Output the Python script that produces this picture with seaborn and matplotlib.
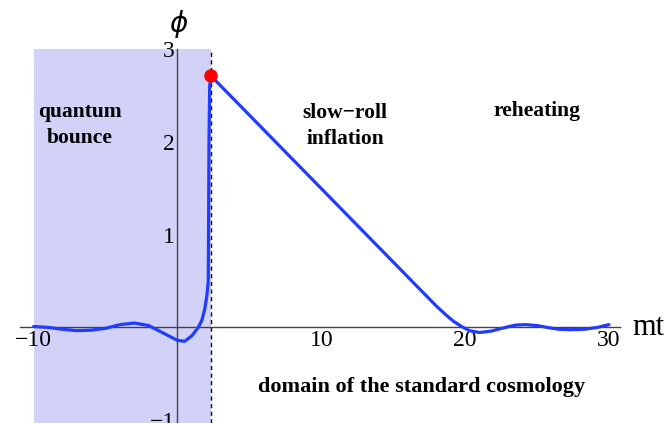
import numpy as np
import pandas as pd
import matplotlib
matplotlib.use("Agg")
import matplotlib.pyplot as plt
import seaborn as sns

# curve: mt -> phi
mt = [-10, -9, -8, -7, -6, -5, -4, -3, -2, -1, -0.5, 0, 0.5, 1, 1.25, 1.45,
      1.7, 1.9, 2.05, 2.14, 2.16, 2.19, 2.24, 2.33,
      18.0, 18.7, 19.2, 19.75, 20.3, 21, 21.8, 22.8,
      23.5, 24.2, 25, 25.7, 26.5, 27.3, 28.3, 29.2, 30]
phi = [0.01, 0.0, -0.02, -0.035, -0.03, -0.01, 0.03, 0.047, 0.02, -0.06, -0.10, -0.14, -0.15, -0.09, -0.04, 0.0,
       0.08, 0.2, 0.35, 0.5, 1.0, 2.0, 2.6, 2.71,
       0.23, 0.13, 0.065, 0.01, -0.035, -0.055, -0.04, 0.0,
       0.025, 0.03, 0.02, 0.0, -0.02, -0.025, -0.02, 0.0, 0.03]

start_point = (2.33, 2.71)
bounce_range = (-10, 2.33)

x_ticks = [-10, 10, 20, 30]
y_ticks = [-1, 1, 2, 3]

sns.set_style("white")
plt.rcParams['font.family'] = ['Liberation Serif', 'DejaVu Serif']
plt.rcParams['text.color'] = 'black'

fig = plt.figure(figsize=(6.7, 4.23), dpi=100)
ax = fig.add_axes([20 / 670, 0.0, 600 / 670, 374 / 423])

df = pd.DataFrame({"mt": mt, "phi": phi})

# quantum bounce region + boundary
ax.axvspan(*bounce_range, color="#d2d2f8", lw=0, zorder=0)
ax.axvline(bounce_range[1], color="k", ls=(0, (3, 2.5)), lw=1.0, zorder=1)

sns.lineplot(data=df, x="mt", y="phi", color="#1f3cff", lw=2.3,
             estimator=None, sort=False, ax=ax, zorder=3)
sns.scatterplot(x=[start_point[0]], y=[start_point[1]], color="red", s=95,
                edgecolor="none", ax=ax, zorder=4)

ax.set_xlim(-10.95, 30.77)
ax.set_ylim(-1.03, 3)

# Mathematica-style axes through the origin
for side in ["top", "right"]:
    ax.spines[side].set_visible(False)
for side in ["left", "bottom"]:
    ax.spines[side].set_position(("data", 0))
    ax.spines[side].set_color("#444444")
    ax.spines[side].set_linewidth(1.0)

ax.set_xticks(x_ticks)
ax.set_yticks(y_ticks)
ax.set_xticklabels(["\u221210", "10", "20", "30"])
ax.set_yticklabels(["\u22121", "1", "2", "3"])
ax.tick_params(direction="in", length=4, width=1, color="#444444",
               labelsize=17, labelcolor="black", pad=2)
ax.set_xlabel("")
ax.set_ylabel("")

ax.text(32.75, 0, "mt", fontsize=22, ha="center", va="center", clip_on=False)
ax.text(0.1, 3.27, r"$\phi$", fontsize=20, ha="center", va="center", clip_on=False)

bold = dict(fontsize=15.5, fontweight="bold", ha="center", va="center")
ax.text(-6.8, 2.18, "quantum\nbounce", linespacing=1.45, **bold)
ax.text(11.65, 2.17, "slow\u2212roll\ninflation", linespacing=1.45, **bold)
ax.text(25.0, 2.33, "reheating", **bold)
ax.text(17.0, -0.64, "domain of the standard cosmology",
        **{**bold, "fontsize": 16})

fig.savefig("out.png", dpi=100)
